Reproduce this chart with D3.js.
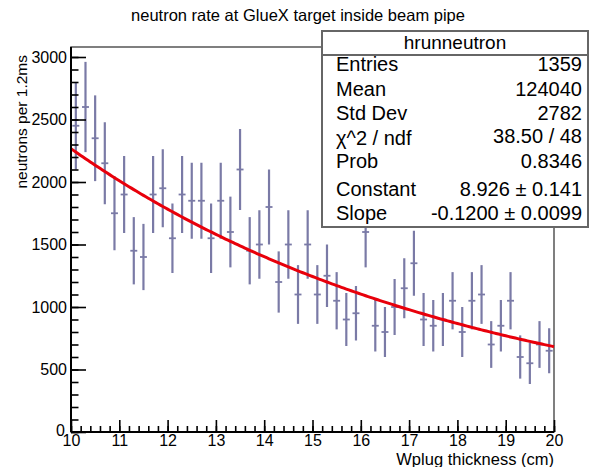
<!DOCTYPE html>
<html>
<head>
<meta charset="utf-8">
<script src="https://cdn.jsdelivr.net/npm/d3@7"></script>
<style>
  html, body { margin: 0; padding: 0; background: #fff; }
  svg { display: block; font-family: "Liberation Sans", Arial, Helvetica, sans-serif; }
</style>
</head>
<body>
<svg id="chart" width="597" height="467"></svg>
<script>
// Histogram hrunneutron: 50 bins of Wplug thickness from 10 to 20 cm
const binLow = 10;
const binHigh = 20;
const binCount = 50;
const binValues = [
  2450, 2600, 2350, 2150, 1750, 1900, 1450, 1400, 1900, 1950,
  1550, 1900, 1850, 1850, 1550, 1850, 1600, 2100, 1450, 1500,
  1800, 1200, 1500, 1100, 1500, 1100, 1250, 1050,  900,  950,
  1600,  850,  800, 1000, 1150, 1350,  900,  850,  900, 1050,
   800, 1050, 1100,  700,  850, 1050,  600,  550,  700,  650
];
const binErrors = [
  350, 361, 343, 328, 296, 308, 269, 265, 308, 312,
  278, 308, 304, 304, 278, 304, 283, 324, 269, 274,
  300, 245, 274, 235, 274, 235, 250, 229, 212, 218,
  283, 206, 200, 224, 240, 260, 212, 206, 212, 229,
  200, 229, 235, 187, 206, 229, 173, 166, 187, 180
];

// Exponential fit: f(x) = exp(constant + slope * x)
const fitConstant = 8.926;
const fitSlope = -0.1200;

// Axis ticks
const xMajorTicks = [10, 11, 12, 13, 14, 15, 16, 17, 18, 19, 20];
const yMajorTicks = [0, 500, 1000, 1500, 2000, 2500, 3000];
const yMax = 3080;

// Statistics box rows
const statLabels = ["Entries", "Mean", "Std Dev", "\u03C7^2 / ndf", "Prob", "Constant", "Slope"];
const statValues = ["1359", "124040", "2782", "38.50 / 48", "0.8346", "8.926 \u00B1 0.141", "-0.1200 \u00B1 0.0099"];

const svg = d3.select("#chart");
const frame = { left: 71, right: 554, top: 47, bottom: 432 };

const x = d3.scaleLinear().domain([binLow, binHigh]).range([frame.left, frame.right]);
const y = d3.scaleLinear().domain([0, yMax]).range([frame.bottom, frame.top]);

const binWidth = (binHigh - binLow) / binCount;
const bins = binValues.map((v, i) => ({
  center: binLow + (i + 0.5) * binWidth,
  value: v,
  err: binErrors[i]
}));

// Frame
svg.append("rect")
  .attr("x", frame.left).attr("y", frame.top)
  .attr("width", frame.right - frame.left).attr("height", frame.bottom - frame.top)
  .attr("fill", "none").attr("stroke", "#555").attr("stroke-width", 1.5);

// Error bars
const barColor = "#7a7aa6";
const gBars = svg.append("g").attr("stroke", barColor).attr("stroke-width", 2.2);
gBars.selectAll("line.v").data(bins).join("line")
  .attr("class", "v")
  .attr("x1", d => x(d.center)).attr("x2", d => x(d.center))
  .attr("y1", d => y(d.value + d.err)).attr("y2", d => y(d.value - d.err));
gBars.selectAll("line.h").data(bins).join("line")
  .attr("class", "h")
  .attr("x1", d => x(d.center - binWidth * 0.36)).attr("x2", d => x(d.center + binWidth * 0.36))
  .attr("y1", d => y(d.value)).attr("y2", d => y(d.value))
  .attr("stroke-width", 1.8);

// Fit curve
const fitX = d3.range(binLow, binHigh + 1e-9, 0.05);
svg.append("path")
  .datum(fitX)
  .attr("fill", "none")
  .attr("stroke", "#e8000b")
  .attr("stroke-width", 3)
  .attr("d", d3.line().x(d => x(d)).y(d => y(Math.exp(fitConstant + fitSlope * d))));

// Axes
const tickFont = 16;
const yMinorAxis = d3.axisLeft(y).tickValues(d3.range(0, yMax, 100)).tickSize(-7.5).tickFormat("");
const yAxis = d3.axisLeft(y).tickValues(yMajorTicks).tickSize(-15).tickPadding(4).tickFormat(d3.format("d"));
const xMinorAxis = d3.axisBottom(x).tickValues(d3.range(binLow, binHigh + 1e-9, 0.2)).tickSize(-6).tickFormat("");
const xAxis = d3.axisBottom(x).tickValues(xMajorTicks).tickSize(-12).tickPadding(3).tickFormat(d3.format("d"));

function styleAxis(g) {
  g.select(".domain").remove();
  g.selectAll(".tick line").attr("stroke", "#000").attr("stroke-width", 1.6);
  g.selectAll("text").attr("fill", "#000").attr("font-size", tickFont)
    .attr("font-family", "Liberation Sans, Arial, sans-serif");
}

svg.append("g").attr("transform", `translate(${frame.left},0)`).call(yMinorAxis).call(styleAxis);
const gY = svg.append("g").attr("transform", `translate(${frame.left},0)`).call(yAxis).call(styleAxis);
svg.append("g").attr("transform", `translate(0,${frame.bottom})`).call(xMinorAxis).call(styleAxis);
svg.append("g").attr("transform", `translate(0,${frame.bottom})`).call(xAxis).call(styleAxis);

// The zero label sits just left of the first x label
gY.selectAll(".tick").filter(d => d === 0).select("text").attr("x", -6).attr("dy", "0.2em");

// Axis lines
svg.append("line").attr("x1", frame.left).attr("x2", frame.left)
  .attr("y1", frame.top).attr("y2", frame.bottom).attr("stroke", "#000").attr("stroke-width", 2);
svg.append("line").attr("x1", frame.left).attr("x2", frame.right)
  .attr("y1", frame.bottom).attr("y2", frame.bottom).attr("stroke", "#000").attr("stroke-width", 2);

// Titles
svg.append("text").attr("x", 298).attr("y", 21).attr("text-anchor", "middle")
  .attr("font-size", 16.5).text("neutron rate at GlueX target inside beam pipe");
svg.append("text").attr("x", frame.right).attr("y", 465).attr("text-anchor", "end")
  .attr("font-size", 16.5).text("Wplug thickness (cm)");
svg.append("text")
  .attr("transform", `translate(27,${frame.top + 8}) rotate(-90)`)
  .attr("text-anchor", "end").attr("font-size", 15.5)
  .text("neutrons per 1.2ms");

// Statistics box
const box = { x: 322, y: 31, w: 266, h: 196, head: 24 };
const gStats = svg.append("g");
gStats.append("rect").attr("x", box.x).attr("y", box.y).attr("width", box.w).attr("height", box.h)
  .attr("fill", "#fff").attr("stroke", "#666").attr("stroke-width", 2);
gStats.append("line").attr("x1", box.x).attr("x2", box.x + box.w)
  .attr("y1", box.y + box.head).attr("y2", box.y + box.head)
  .attr("stroke", "#666").attr("stroke-width", 2);
gStats.append("text").attr("x", box.x + box.w / 2).attr("y", box.y + 18)
  .attr("text-anchor", "middle").attr("font-size", 19).text("hrunneutron");

const labelY = [71, 96, 120, 145, 168, 196, 220];
const valueY = [71, 96, 120, 143, 168, 196, 220];
gStats.selectAll("text.lab").data(statLabels).join("text")
  .attr("class", "lab")
  .attr("x", box.x + 14).attr("y", (d, i) => labelY[i])
  .attr("font-size", 20).text(d => d);
gStats.selectAll("text.val").data(statValues).join("text")
  .attr("class", "val")
  .attr("x", box.x + box.w - 6).attr("y", (d, i) => valueY[i])
  .attr("text-anchor", "end")
  .attr("font-size", 20).text(d => d);
</script>
</body>
</html>
